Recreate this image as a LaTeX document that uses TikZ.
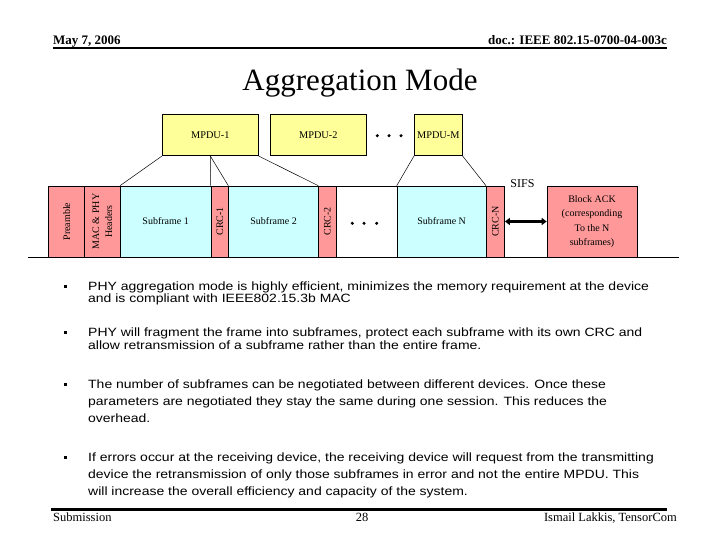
\documentclass[tikz,border=0pt]{standalone}
\usepackage{fontspec}
\setmainfont{Liberation Serif}
\newfontfamily\bulfont[FakeStretch=1.165]{Liberation Sans}
\usetikzlibrary{arrows.meta}
\definecolor{pinkc}{HTML}{FF9999}
\definecolor{cyanc}{HTML}{CCFFFF}
\definecolor{yelc}{HTML}{FFFF99}
\begin{document}
\begin{tikzpicture}[x=1pt,y=-1pt,
  mpdu/.style={draw, fill=yelc, inner sep=0pt, minimum height=41.4pt, line width=0.6pt,
    font=\fontsize{10.3}{12}\selectfont},
  fbox/.style={draw, inner sep=0pt, minimum height=71pt, anchor=west, line width=0.6pt},
  pinkbox/.style={fbox, fill=pinkc},
  cyanbox/.style={fbox, fill=cyanc, font=\fontsize{10}{12}\selectfont},
  vlbl/.style={rotate=90, inner sep=0pt, align=center, font=\fontsize{10}{13}\selectfont},
  link/.style={line width=0.5pt},
  hdr/.style={inner sep=0pt, font=\fontsize{13}{15}\selectfont\bfseries},
  ftr/.style={inner sep=0pt, font=\fontsize{12.5}{15}\selectfont},
  bul/.style={inner sep=0pt, anchor=base west, font=\fontsize{12}{14}\selectfont\bulfont},
  bsq/.style={fill=black, inner sep=0pt, minimum size=3pt},
  dot/.style={fill=black}
]
\useasboundingbox (0,0) rectangle (720,540);

% header and footer
\node[hdr, anchor=base west] (date) at (53,44.5) {May 7, 2006};
\node[hdr, anchor=base east] (doc) at (667,44.5) {doc.: IEEE 802.15-0700-04-003c};
\draw[line width=2.4pt] (53,48) -- (667,48);
\draw[line width=2.4pt] (51,509.5) -- (667,509.5);
\node[ftr, anchor=base west] (sub) at (53,521) {Submission};
\node[ftr, anchor=base] (pg) at (362,521) {28};
\node[ftr, anchor=base east] (auth) at (677,521) {Ismail Lakkis, TensorCom};

% title
\node[inner sep=0pt, font=\fontsize{31}{36}\selectfont] (title) at (360,83) {Aggregation Mode};

% MPDUs
\node[mpdu, minimum width=96pt] (mp1) at (210.3,135) {MPDU-1};
\node[mpdu, minimum width=96.7pt] (mp2) at (318.3,135) {MPDU-2};
\node[mpdu, minimum width=48pt] (mpM) at (438.3,135) {MPDU-M};
\fill[dot] (377.3,135.7) circle (1.7pt);
\fill[dot] (389,135.7) circle (1.7pt);
\fill[dot] (401,135.7) circle (1.7pt);

% frame row
\node[pinkbox, minimum width=36pt] (pre) at (48.3,221.5) {};
\node[pinkbox, minimum width=35.7pt] (hdrs) at (84.3,221.5) {};
\node[cyanbox, minimum width=90.7pt] (sf1) at (120,221.5) {Subframe 1};
\node[pinkbox, minimum width=17.6pt] (crc1) at (210.7,221.5) {};
\node[cyanbox, minimum width=90pt] (sf2) at (228.3,221.5) {Subframe 2};
\node[pinkbox, minimum width=17.7pt] (crc2) at (318.3,221.5) {};
\node[fbox, fill=white, minimum width=60.7pt] (gap) at (336,221.5) {};
\node[cyanbox, minimum width=89.3pt] (sfN) at (396.7,221.5) {Subframe N};
\node[pinkbox, minimum width=18.3pt] (crcN) at (486,221.5) {};
\node[pinkbox, minimum width=90pt, align=center, font=\fontsize{10}{14.5}\selectfont] (ack) at (546.7,221.5)
  {Block ACK\\(corresponding\\To the N\\subframes)};

\node[vlbl] (lpre) at (pre.center) {Preamble};
\node[vlbl] (lhdr) at (hdrs.center) {MAC \& PHY\\Headers};
\node[vlbl] (lc1) at (crc1.center) {CRC-1};
\node[vlbl] (lc2) at (crc2.center) {CRC-2};
\node[vlbl] (lcN) at (crcN.center) {CRC-N};

\fill[dot] (352.3,223.3) circle (1.7pt);
\fill[dot] (364,223.3) circle (1.7pt);
\fill[dot] (376.7,223.3) circle (1.7pt);

\coordinate (bl) at (28,257);
\coordinate (br) at (679,257);
\draw[line width=0.7pt] (bl) -- (br);

\node[inner sep=0pt, font=\fontsize{12}{14}\selectfont] (sifs) at (522.5,184) {SIFS};
\draw[line width=2.4pt, {Triangle[length=5pt,width=7pt]}-{Triangle[length=5pt,width=7pt]}] (crcN.east) -- (ack.west);

% connectors
\draw[link] (mp1.south west) -- (sf1.north west);
\draw[link] (mp1.south) -- (crc1.north west);
\draw[link] (mp1.south) -- (sf2.north west);
\draw[link] (mp1.south east) -- (crc2.north west);
\draw[link] (mpM.south west) -- (sfN.north west);
\draw[link] (mpM.south east) -- (crcN.north west);

% bullets
\node[bsq] (q1) at (65,286) {};
\node[bul] (b1a) at (88,290.5) {PHY aggregation mode is highly efficient, minimizes the memory requirement at the device};
\node[bul] (b1b) at (88,302.5) {and is compliant with IEEE802.15.3b MAC};
\node[bsq] (q2) at (65,332) {};
\node[bul] (b2a) at (88,336.5) {PHY will fragment the frame into subframes, protect each subframe with its own CRC and};
\node[bul] (b2b) at (88,349) {allow retransmission of a subframe rather than the entire frame.};
\node[bsq] (q3) at (65,384) {};
\node[bul] (b3a) at (88,388.5) {The number of subframes can be negotiated between different devices. Once these};
\node[bul] (b3b) at (88,405.5) {parameters are negotiated they stay the same during one session. This reduces the};
\node[bul] (b3c) at (88,422.5) {overhead.};
\node[bsq] (q4) at (65,457) {};
\node[bul] (b4a) at (88,461) {If errors occur at the receiving device, the receiving device will request from the transmitting};
\node[bul] (b4b) at (88,478) {device the retransmission of only those subframes in error and not the entire MPDU. This};
\node[bul] (b4c) at (88,495) {will increase the overall efficiency and capacity of the system.};
\end{tikzpicture}
\end{document}
